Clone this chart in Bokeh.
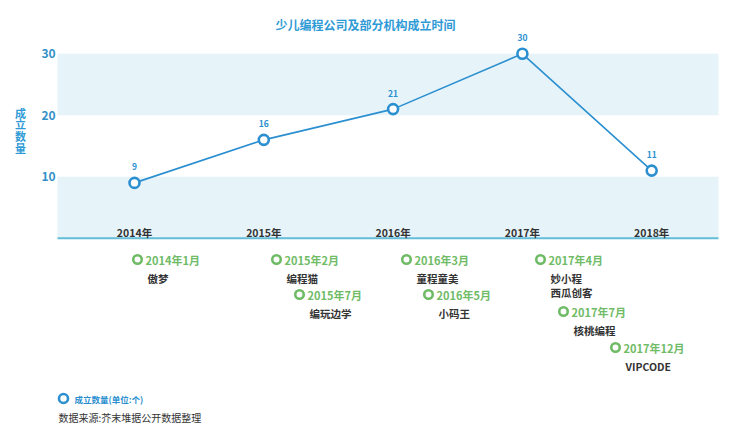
from bokeh.plotting import figure
from bokeh.models import Range1d, ColumnDataSource
from bokeh.core.properties import value
from bokeh.embed import file_html
from bokeh.resources import INLINE

# ---------------- data ----------------
years = [2014, 2015, 2016, 2017, 2018]
year_labels = ["2014年", "2015年", "2016年", "2017年", "2018年"]
counts = [9, 16, 21, 30, 11]
y_ticks = [10, 20, 30]

event_dates = ["2014年1月", "2015年2月", "2015年7月", "2016年3月",
               "2016年5月", "2017年4月", "2017年7月", "2017年12月"]
event_names = [["傲梦"], ["编程猫"], ["编玩边学"], ["童程童美"],
               ["小码王"], ["妙小程", "西瓜创客"], ["核桃编程"], ["VIPCODE"]]

title = "少儿编程公司及部分机构成立时间"
y_title = "成立数量"
legend_label = "成立数量(单位:个)"
source_note = "数据来源:芥末堆据公开数据整理"

# ---------------- layout helpers (reference pixels -> data units) ----------------
X_REF0, X_STEP = 134.0, 129.3
Y_REF0, Y_STEP = 237.7, 6.147


def fx(px):
    return 2014 + (px - X_REF0) / X_STEP


def fy(py):
    return (Y_REF0 - py) / Y_STEP


# event layout (reference pixel positions of the ring markers)
ev_px = [137, 276, 299, 406, 428, 540, 563, 615]
ev_py = [259, 259, 294, 259, 294, 259, 311, 347]

FONT = value("Noto Sans CJK SC")
BLUE = "#2b8fd0"
TITLE_BLUE = "#2e9ad6"
GREEN = "#6fbb66"
DARK = "#333333"
BAND = "#e6f4fa"

W, H = 730, 430
OFF = 0
p = figure(width=W, height=H, output_backend="svg", toolbar_location=None,
           x_range=Range1d(fx(OFF), fx(OFF + W)), y_range=Range1d(fy(OFF + H), fy(OFF)),
           min_border=0, min_border_left=0, min_border_right=0,
           min_border_top=0, min_border_bottom=0)
p.axis.visible = False
p.grid.visible = False
p.outline_line_color = None
p.background_fill_color = "white"
p.border_fill_color = "white"

# bands
xl, xr = fx(57), fx(718)
p.quad(left=[xl, xl], right=[xr, xr], bottom=[0, 20], top=[10, 30],
       fill_color=BAND, line_color=None)
# baseline
p.segment(x0=[xl], x1=[xr], y0=[0], y1=[0], line_color="#63bcd8", line_width=2)

# y tick labels
p.text(x=[fx(48)] * len(y_ticks), y=y_ticks, text=[str(t) for t in y_ticks],
       text_font=FONT, text_font_style="bold", text_font_size="12px",
       text_color="#3490c8", text_align="center", text_baseline="middle")

# y title (vertical stacked characters)
p.text(x=[fx(20)] * len(y_title), y=[fy(112 + 11.8 * i) for i in range(len(y_title))],
       text=list(y_title), text_font=FONT, text_font_style="bold",
       text_font_size="11px", text_color=TITLE_BLUE, text_align="center",
       text_baseline="middle")

# year labels
p.text(x=years, y=[fy(232)] * len(years), text=year_labels, text_font=FONT,
       text_font_style="bold", text_font_size="10.5px", text_color=DARK,
       text_align="center", text_baseline="middle")

# line + markers
src = ColumnDataSource(dict(x=years, y=counts, lab=[str(c) for c in counts]))
p.line("x", "y", source=src, line_color=BLUE, line_width=1.6)
p.scatter("x", "y", source=src, size=10, line_color=BLUE, line_width=2.6,
          fill_color="white")
p.text(x="x", y="y", text="lab", source=src, y_offset=-16, text_font=FONT,
       text_font_style="bold", text_font_size="8.5px", text_color=BLUE,
       text_align="center", text_baseline="middle")

# title
p.text(x=[fx(365)], y=[fy(24)], text=[title], text_font=FONT,
       text_font_style="bold", text_font_size="12px", text_color=TITLE_BLUE,
       text_align="center", text_baseline="middle")

# timeline events
p.scatter(x=[fx(v) for v in ev_px], y=[fy(v) for v in ev_py], size=8.5,
          line_color=GREEN, line_width=2.6, fill_color="white")
p.text(x=[fx(v + 8) for v in ev_px], y=[fy(v) for v in ev_py], text=event_dates,
       text_font=FONT, text_font_style="bold", text_font_size="11px",
       text_color=GREEN, text_align="left", text_baseline="middle")
nx, ny, nt = [], [], []
for px_, py_, names in zip(ev_px, ev_py, event_names):
    for j, n in enumerate(names):
        nx.append(fx(px_ + 10))
        ny.append(fy(py_ + 19 + 14 * j))
        nt.append(n)
p.text(x=nx, y=ny, text=nt, text_font=FONT, text_font_style="bold",
       text_font_size="10.5px", text_color=DARK, text_align="left",
       text_baseline="middle")

# legend
p.scatter(x=[fx(63)], y=[fy(398)], size=9, line_color=BLUE, line_width=2.6,
          fill_color="white")
p.text(x=[fx(74)], y=[fy(398)], text=[legend_label], text_font=FONT,
       text_font_style="bold", text_font_size="8.5px", text_color=BLUE,
       text_align="left", text_baseline="middle")
p.text(x=[fx(58)], y=[fy(417)], text=[source_note], text_font=FONT,
       text_font_size="10px", text_color=DARK, text_align="left",
       text_baseline="middle")

open("out.html", "w").write(file_html(p, INLINE))
